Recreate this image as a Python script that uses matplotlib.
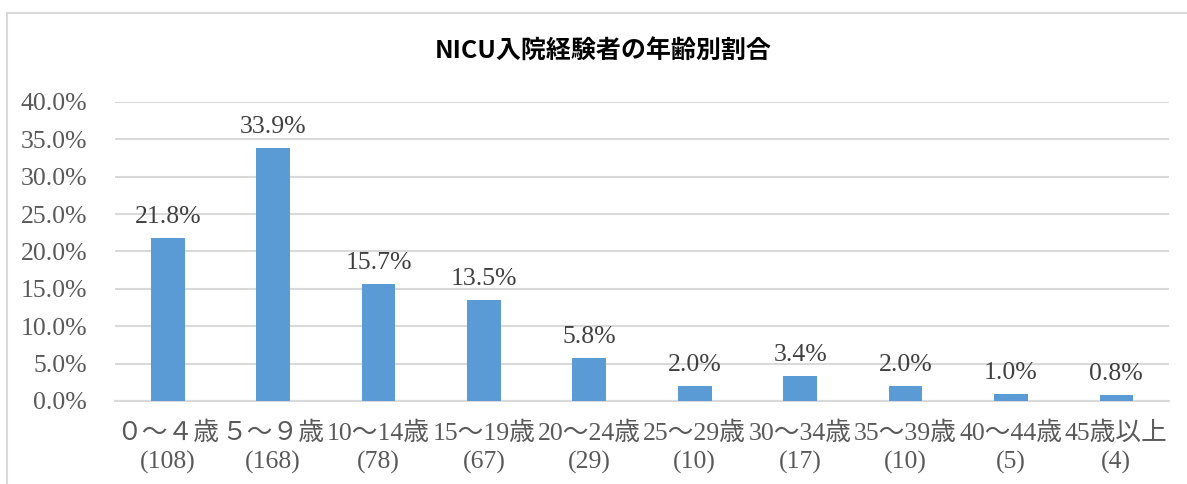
import matplotlib
matplotlib.use("Agg")
import matplotlib.pyplot as plt
import matplotlib.patches as patches

categories = ["０～４歳", "５～９歳", "10～14歳", "15～19歳", "20～24歳",
              "25～29歳", "30～34歳", "35～39歳", "40～44歳", "45歳以上"]
counts = [108, 168, 78, 67, 29, 10, 17, 10, 5, 4]
ratios = [21.8, 33.9, 15.7, 13.5, 5.8, 2.0, 3.4, 2.0, 1.0, 0.8]
title = "NICU入院経験者の年齢別割合"

plt.rcParams["font.family"] = ["Liberation Serif", "Noto Sans CJK JP"]

fig = plt.figure(figsize=(11.87, 4.84), dpi=100)
ax = fig.add_axes([0.0969, 0.1715, 0.888, 0.6178])

# chart frame (only left and top visible in the crop)
frame = patches.Rectangle((7 / 1187, -0.2), 1.5, 1.2 - 13 / 484,
                          transform=fig.transFigure, fill=False,
                          edgecolor="#D9D9D9", linewidth=1.5)
fig.patches.append(frame)

x = list(range(len(categories)))
vals = [r / 100 for r in ratios]
ax.bar(x, vals, width=0.32, color="#5B9BD5", zorder=3)

for xi, v, r in zip(x, vals, ratios):
    ax.annotate(f"{r:.1f}%", (xi, v), xytext=(0, 7), textcoords="offset points",
                ha="center", va="bottom", fontsize=18.5, color="#404040")

ax.set_xlim(-0.5, len(categories) - 0.5)
ax.set_ylim(0, 0.4)
ax.set_yticks([i * 0.05 for i in range(9)])
ax.set_yticklabels([f"{i * 5:.1f}%" for i in range(9)])
ax.set_xticks(x)
ax.set_xticklabels([f"{c}\n({n})" for c, n in zip(categories, counts)],
                   linespacing=1.34)

ax.tick_params(axis="y", length=0, pad=20, labelsize=18.5, labelcolor="#595959")
ax.tick_params(axis="x", length=0, pad=15, labelsize=18.5, labelcolor="#595959")
ax.grid(axis="y", color="#D9D9D9", linewidth=1.5, zorder=0)
for s in ["top", "right", "left"]:
    ax.spines[s].set_visible(False)
ax.spines["bottom"].set_color("#D9D9D9")
ax.spines["bottom"].set_linewidth(1.5)

fig.text(0.508, 0.895, title, ha="center", va="center", fontsize=18,
         fontweight="bold", family=["Noto Sans CJK JP"], color="black")

fig.savefig("out.png", dpi=100)
